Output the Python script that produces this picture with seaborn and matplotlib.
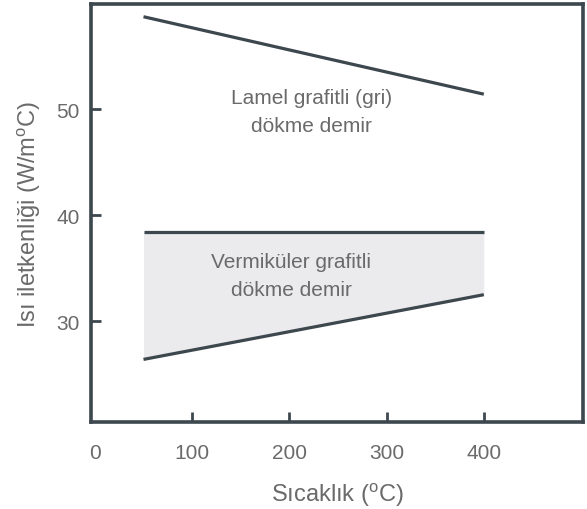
import matplotlib
matplotlib.use("Agg")
import matplotlib.pyplot as plt
import seaborn as sns
import pandas as pd

# Thermal conductivity vs. temperature for two cast iron types
temperature = [50, 400]
lamel = [58.7, 51.4]
verm_upper = [38.4, 38.4]
verm_lower = [26.4, 32.5]

x_ticks = [0, 100, 200, 300, 400]
y_ticks = [30, 40, 50]

sns.set_theme(style="white")
plt.rcParams["font.family"] = ["Liberation Sans", "DejaVu Sans"]
plt.rcParams["mathtext.fontset"] = "custom"
plt.rcParams["mathtext.rm"] = "Liberation Sans"

frame = "#3c474e"
text_c = "#6a6a6a"

fig = plt.figure(figsize=(5.87, 5.10), dpi=100)
ax = fig.add_axes([91 / 587, 1 - 423 / 510, (583 - 91) / 587, (423 - 5) / 510])

df = pd.DataFrame({"t": temperature, "lamel": lamel,
                   "up": verm_upper, "low": verm_lower})

ax.fill_between(df["t"], df["low"], df["up"], color="#ebebee", lw=0, zorder=1)
for col in ["lamel", "up", "low"]:
    sns.lineplot(data=df, x="t", y=col, ax=ax, color=frame, lw=2.3,
                 solid_capstyle="butt", zorder=3)

ax.text(223, 49.8, "Lamel grafitli (gri)\ndökme demir", ha="center",
        va="center", fontsize=15, color=text_c, linespacing=1.6)
ax.text(202, 34.3, "Vermiküler grafitli\ndökme demir", ha="center",
        va="center", fontsize=15, color=text_c, linespacing=1.6)

ax.set_xlim(-4, 502)
ax.set_ylim(20.5, 59.9)
ax.set_xticks(x_ticks)
ax.set_yticks(y_ticks)
ax.tick_params(axis="both", direction="in", length=7.5, width=2, color=frame,
               labelsize=15, labelcolor=text_c, bottom=True, left=True)
ax.tick_params(axis="x", pad=15)
ax.tick_params(axis="y", pad=8)
# the spine already marks zero on the x axis
ax.xaxis.get_major_ticks()[0].tick1line.set_visible(False)
for s in ax.spines.values():
    s.set_color(frame)
    s.set_linewidth(2.6)

ax.set_xlabel(r"Sıcaklık (${}^{\mathrm{o}}$C)", fontsize=17, color=text_c,
              labelpad=13)
ax.set_ylabel(r"Isı iletkenliği (W/m${}^{\mathrm{o}}$C)", fontsize=17,
              color=text_c, labelpad=10)

fig.savefig("out.png", dpi=100)
